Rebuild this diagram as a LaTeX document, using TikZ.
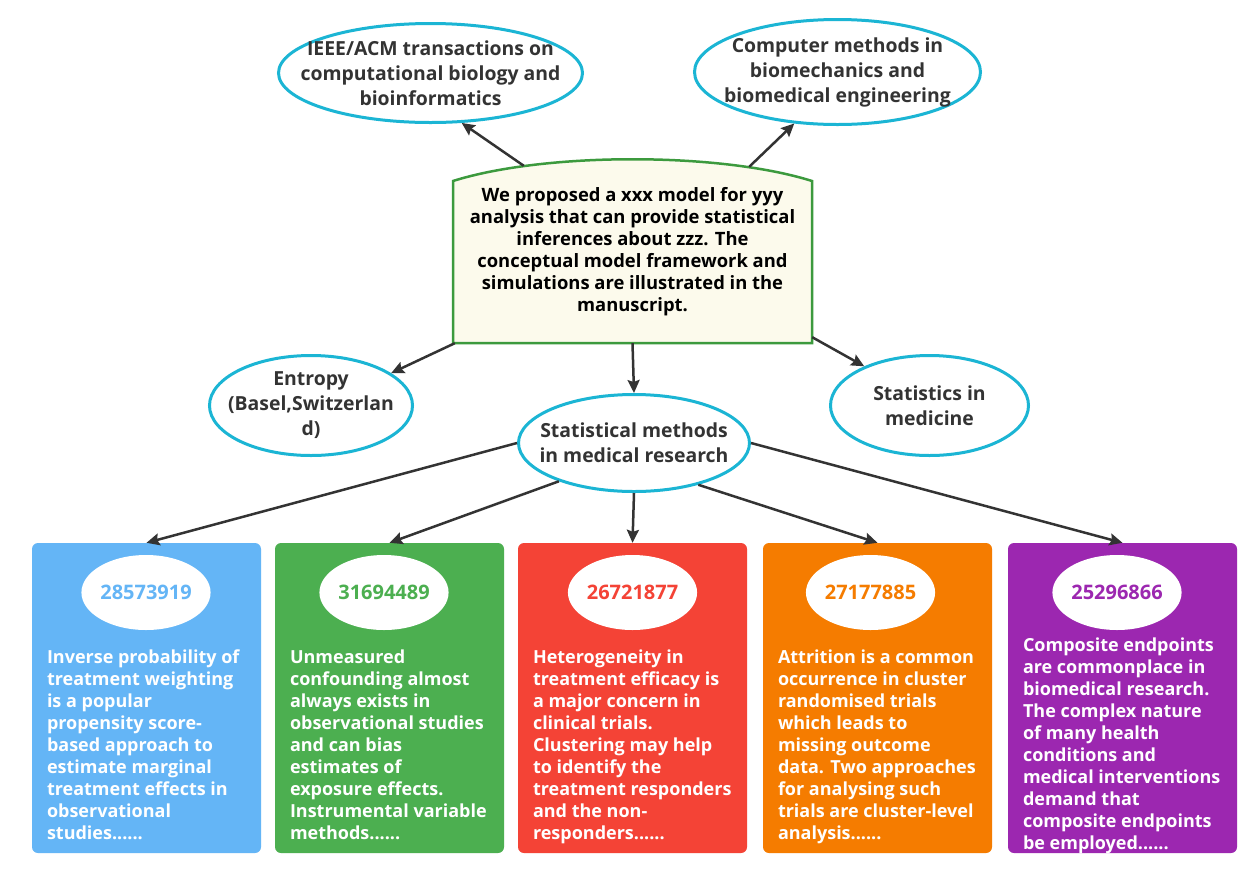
\documentclass[tikz,border=0pt]{standalone}
\usepackage{fontspec}
\setmainfont{Open Sans}
\usetikzlibrary{shapes.geometric,arrows.meta}
\definecolor{ringcyan}{HTML}{1BB5D4}
\definecolor{coregreen}{HTML}{3C9A3E}
\definecolor{corefill}{HTML}{FCFAEC}
\definecolor{linkgray}{HTML}{333333}
\definecolor{cblue}{HTML}{64B5F6}
\definecolor{cgreen}{HTML}{4CAF50}
\definecolor{cred}{HTML}{F44336}
\definecolor{corange}{HTML}{F57C00}
\definecolor{cpurple}{HTML}{9C27B0}

\begin{document}
\begin{tikzpicture}[x=1pt,y=-1pt,
  lbl/.style={font=\bfseries\fontsize{18}{22}\selectfont},
  journal/.style={font=\bfseries\fontsize{19.4}{25}\selectfont,ellipse,draw=ringcyan,line width=3pt,fill=white,text=linkgray,align=center,inner xsep=-30pt,inner ysep=-6pt},
  arr/.style={-{Stealth[length=13pt,width=12pt,inset=2pt]},draw=linkgray,line width=2.5pt},
  card/.style={rounded corners=6pt,minimum width=229pt,minimum height=310pt,inner sep=0pt},
  pmid/.style={font=\bfseries\fontsize{20}{24}\selectfont,ellipse,fill=white,minimum width=116pt,minimum height=75pt,inner sep=0pt},
  cardtext/.style={lbl,text=white,align=left,inner sep=0pt,anchor=north west}]
  \useasboundingbox[fill=white] (0,0) rectangle (1259,871);

  % central statement
  \draw[draw=coregreen,fill=corefill,line width=2.5pt] (453,181) .. controls (545,152) and (720,152) .. (812,181) -- (812,343) -- (453,343) -- cycle;
  \node[font=\bfseries\fontsize{18.4}{22}\selectfont,align=center,minimum width=359pt,minimum height=183pt,inner sep=0pt] (core) at (632.5,251.5)
    {We proposed a xxx model for yyy\\analysis that can provide statistical\\inferences about zzz. The\\conceptual model framework and\\simulations are illustrated in the\\manuscript.};

  % journals
  \node[journal,minimum width=304pt,minimum height=99pt] (ieee) at (430.5,73)
    {IEEE/ACM transactions on\\computational biology and\\bioinformatics};
  \node[journal,minimum width=286pt,minimum height=105pt] (comp) at (837.5,72)
    {Computer methods in\\biomechanics and\\biomedical engineering};
  \node[journal,minimum width=203pt,minimum height=100pt] (entropy) at (311,405.5)
    {Entropy\\(Basel,Switzerlan\\d)};
  \node[journal,minimum width=198pt,minimum height=100pt] (stats) at (929.5,405.5)
    {Statistics in\\medicine};
  \node[journal,minimum width=231pt,minimum height=97pt] (sm) at (634,443)
    {Statistical methods\\in medical research};

  \draw[arr] ([shift={(71,6)}]core.north west) -- (ieee.302);
  \draw[arr] ([shift={(-63,7)}]core.north east) -- (comp.230);
  \draw[arr] ([xshift=2pt]core.south west) -- (entropy.22);
  \draw[arr] (core.south) -- (sm.north);
  \draw[arr] ([yshift=6pt]core.south east) -- (stats.149);

  % articles
  \foreach \i/\cx/\ex/\col/\num/\ty/\body in {
    1/146.5/146/cblue/28573919/650/{Inverse probability of\\treatment weighting\\is a popular\\propensity score-\\based approach to\\estimate marginal\\treatment effects in\\observational\\studies......},
    2/389.5/384/cgreen/31694489/650/{Unmeasured\\confounding almost\\always exists in\\observational studies\\and can bias\\estimates of\\exposure effects.\\Instrumental variable\\methods......},
    3/632.5/632.5/cred/26721877/650/{Heterogeneity in\\treatment efficacy is\\a major concern in\\clinical trials.\\Clustering may help\\to identify the\\treatment responders\\and the non-\\responders......},
    4/877.5/870.5/corange/27177885/650/{Attrition is a common\\occurrence in cluster\\randomised trials\\which leads to\\missing outcome\\data. Two approaches\\for analysing such\\trials are cluster-level\\analysis......},
    5/1122.5/1117/cpurple/25296866/638/{Composite endpoints\\are commonplace in\\biomedical research.\\The complex nature\\of many health\\conditions and\\medical interventions\\demand that\\composite endpoints\\be employed......}}{
    \node[card,fill=\col] (card\i) at (\cx,698) {};
    \node[pmid,text=\col] (pm\i) at (\ex,592.5) {\num};
    \node[cardtext] (body\i) at ([xshift=15pt]card\i.west |- 0,\ty) {\body};
  }

  \foreach \i/\a in {1/180,2/207,3/270,4/327,5/0}
    \draw[arr] (sm.\a) -- (card\i.north);
\end{tikzpicture}
\end{document}
